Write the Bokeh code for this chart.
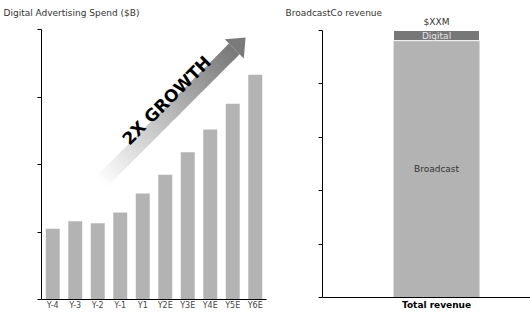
import math
from bokeh.plotting import figure
from bokeh.models import FixedTicker, Range1d, FactorRange, CustomJSTickFormatter
from bokeh.layouts import row
from bokeh.embed import file_html
from bokeh.resources import INLINE
from bokeh.core.properties import value

FONT = "DejaVu Sans"

# ---- data ----
years = ["Y-4", "Y-3", "Y-2", "Y-1", "Y1", "Y2E", "Y3E", "Y4E", "Y5E", "Y6E"]
spend = [10.5, 11.6, 11.3, 12.9, 15.7, 18.5, 21.8, 25.2, 29.0, 33.3]
spend_ticks = [0, 10, 20, 30, 40]

rev_category = ["Total revenue"]
broadcast = [96.2]
digital = [3.8]
rev_ticks = [0, 20, 40, 60, 80, 100]
rev_total_label = "$XXM"
growth_text = "2X GROWTH"

BAR = "#b3b3b3"
DARK = "#777777"
BLANK = CustomJSTickFormatter(code="return ''")
TOP_BORDER = 16


def style_common(p, ticks):
    p.xgrid.visible = False
    p.ygrid.visible = False
    p.outline_line_color = None
    p.background_fill_color = "white"
    p.border_fill_color = "white"
    p.title.text_font = FONT
    p.title.text_font_size = "9px"
    p.title.text_font_style = "normal"
    p.title.text_color = "#333333"
    p.title.align = "left"
    p.title.standoff = -2
    ya = p.yaxis[0]
    ya.ticker = FixedTicker(ticks=ticks)
    ya.bounds = (ticks[0], ticks[-1])
    ya.formatter = BLANK
    ya.major_tick_out = 4
    ya.major_tick_in = 0
    ya.minor_tick_line_color = None
    ya.axis_line_color = "black"
    ya.major_tick_line_color = "black"
    ya.major_label_standoff = 0
    xa = p.xaxis[0]
    xa.major_tick_line_color = None
    xa.minor_tick_line_color = None
    xa.major_tick_out = 0
    xa.major_tick_in = 0
    xa.axis_line_color = "black"
    xa.major_label_standoff = 2
    xa.major_label_text_font = FONT


# ---- left chart ----
L_FW, L_FH = 225, 283
L_PX_PER_UNIT = 270 / spend_ticks[-1]
L_Y_END = L_FH / L_PX_PER_UNIT
p1 = figure(x_range=FactorRange(factors=years), y_range=Range1d(0, L_Y_END),
            frame_width=L_FW, frame_height=L_FH,
            min_border_left=41, min_border_right=4, min_border_top=TOP_BORDER,
            min_border_bottom=13,
            output_backend="svg", toolbar_location=None, tools="",
            title="Digital Advertising Spend ($B)")
style_common(p1, spend_ticks)
p1.title.offset = -38
p1.xaxis[0].major_label_standoff = 1
p1.xaxis[0].major_label_text_font_size = "8px"
p1.xaxis[0].major_label_text_color = "#444444"

p1.vbar(x=years, top=spend, width=0.62, fill_color=BAR, line_color=None)

# growth arrow (decoration), defined in data units and shaped in pixel space
sx = L_FW / len(years)
sy = L_PX_PER_UNIT
tip = (9.07 * sx, 38.8 * sy)
tail = (2.62 * sx, 17.3 * sy)
dx, dy = tip[0] - tail[0], tip[1] - tail[1]
length = math.hypot(dx, dy)
ux, uy = dx / length, dy / length
nx, ny = uy, -ux
head_len, head_hw, shaft_hw = 16.0, 13.5, 7.5
base = (tip[0] - ux * head_len, tip[1] - uy * head_len)
shaft_len = length - head_len
N = 60
xs, ys, cols = [], [], []
for i in range(N):
    t0 = i / N
    t1 = min((i + 1) / N + 0.004, 1.0)
    a = (tail[0] + ux * shaft_len * t0, tail[1] + uy * shaft_len * t0)
    b = (tail[0] + ux * shaft_len * t1, tail[1] + uy * shaft_len * t1)
    pts = [(a[0] + nx * shaft_hw, a[1] + ny * shaft_hw),
           (b[0] + nx * shaft_hw, b[1] + ny * shaft_hw),
           (b[0] - nx * shaft_hw, b[1] - ny * shaft_hw),
           (a[0] - nx * shaft_hw, a[1] - ny * shaft_hw)]
    xs.append([q[0] / sx for q in pts])
    ys.append([q[1] / sy for q in pts])
    tm = (i + 0.5) / N
    g = int(round(255 - 135 * tm))
    cols.append("#%02x%02x%02x" % (g, g, g))
p1.patches(xs=xs, ys=ys, fill_color=cols, line_color=None)
head = [(tip[0], tip[1]),
        (base[0] + nx * head_hw, base[1] + ny * head_hw),
        (base[0] - nx * head_hw, base[1] - ny * head_hw)]
p1.patch(x=[q[0] / sx for q in head], y=[q[1] / sy for q in head],
         fill_color="#7a7a7a", line_color=None)
p1.text(x=[5.56], y=[29.5], text=[growth_text], angle=math.atan2(dy, dx),
        text_font=value(FONT), text_font_size="17px", text_font_style="bold",
        text_color="black", text_align="center", text_baseline="middle")

# ---- right chart ----
R_X = 0.5
R_FH = 281
R_PX_PER_UNIT = 267 / rev_ticks[-1]
R_Y_END = R_FH / R_PX_PER_UNIT
p2 = figure(x_range=Range1d(0, 0.912), y_range=Range1d(0, R_Y_END),
            frame_width=208, frame_height=R_FH,
            min_border_left=52, min_border_right=0, min_border_top=TOP_BORDER,
            min_border_bottom=15,
            output_backend="svg", toolbar_location=None, tools="",
            title="BroadcastCo revenue")
style_common(p2, rev_ticks)
p2.title.offset = -37
p2.xaxis[0].ticker = FixedTicker(ticks=[R_X])
p2.xaxis[0].major_label_overrides = {R_X: rev_category[0]}
p2.xaxis[0].major_label_text_font_size = "9px"
p2.xaxis[0].major_label_text_font_style = "bold"
p2.xaxis[0].major_label_text_color = "black"

tot = [b + d for b, d in zip(broadcast, digital)]
p2.vbar(x=[R_X], bottom=0, top=broadcast, width=0.377, fill_color=BAR, line_color=None)
p2.vbar(x=[R_X], bottom=broadcast, top=tot, width=0.377, fill_color=DARK,
        line_color="white", line_width=1)
p2.text(x=[R_X], y=[broadcast[0] / 2], text=["Broadcast"], text_font=value(FONT),
        text_font_size="9px", text_color="#333333", text_align="center", text_baseline="middle")
p2.text(x=[R_X], y=[broadcast[0] + digital[0] / 2], text=["Digital"], text_font=value(FONT),
        text_font_size="9px", text_color="#e6e6e6", text_align="center", text_baseline="middle")
p2.text(x=[R_X], y=[tot[0] + 3.2], text=[rev_total_label], text_font=value(FONT),
        text_font_size="9px", text_color="#333333", text_align="center", text_baseline="middle")

layout = row(p1, p2)
open("out.html", "w").write(file_html(layout, INLINE))
